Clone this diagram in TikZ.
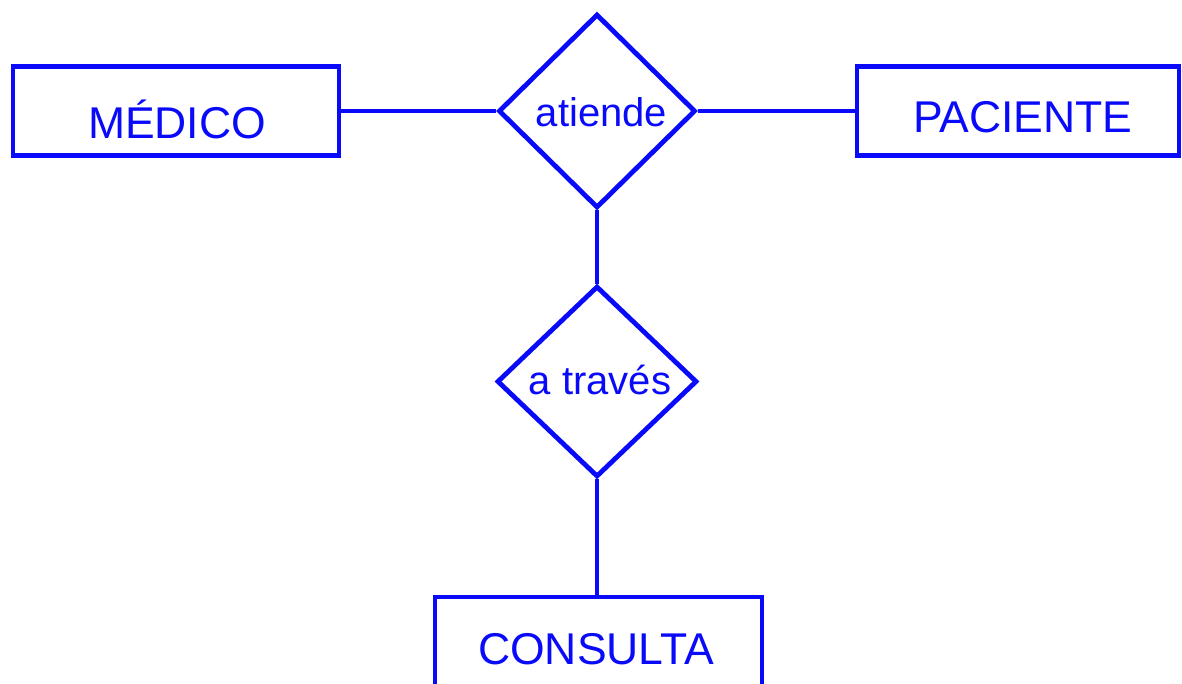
\documentclass[tikz,border=0pt]{standalone}
\usepackage{fontspec}
\setmainfont{Liberation Sans}
\usetikzlibrary{shapes.geometric}
\definecolor{erblue}{RGB}{10,10,250}
\tikzset{
  erline/.style={draw=erblue, line width=4.8pt},
  entity/.style={erline, rectangle, inner sep=0pt, minimum width=#1, minimum height=88.5pt},
  relation/.style={erline, diamond, inner sep=0pt},
  entext/.style={text=erblue, anchor=base, inner sep=0pt, font=\fontsize{44.5}{50}\selectfont},
  reltext/.style={text=erblue, anchor=base, inner sep=0pt, font=\fontsize{40}{46}\selectfont},
}
\begin{document}
\begin{tikzpicture}[x=1pt, y=-1pt]
  \useasboundingbox (0,0) rectangle (1182,683);

  % entities
  \node[entity=326pt] (medico) at (176,111) {};
  \node[entity=322pt] (paciente) at (1018,111) {};
  \node[entity=327pt, minimum height=110pt] (consulta) at (598.5,652) {};

  % relationships
  \node[relation, minimum width=197pt, minimum height=194pt] (atiende) at (597,111) {};
  \node[relation, minimum width=200pt, minimum height=191pt] (traves) at (597,381.5) {};

  % labels
  \node[entext] (tmedico) at (177,138) {MÉDICO};
  \node[entext] (tpaciente) at (1023,132) {PACIENTE};
  \node[entext] (tconsulta) at (596,664) {CONSULTA};
  \node[reltext] (tatiende) at (601.5,126) {atiende};
  \node[reltext] (ttraves) at (600,394) {a través};

  % connectors
  \draw[erline] (medico.east) -- (atiende.west);
  \draw[erline] (atiende.east) -- (paciente.west);
  \draw[erline] (atiende.south) -- (traves.north);
  \draw[erline] (traves.south) -- (traves.south |- consulta.north);
\end{tikzpicture}
\end{document}
